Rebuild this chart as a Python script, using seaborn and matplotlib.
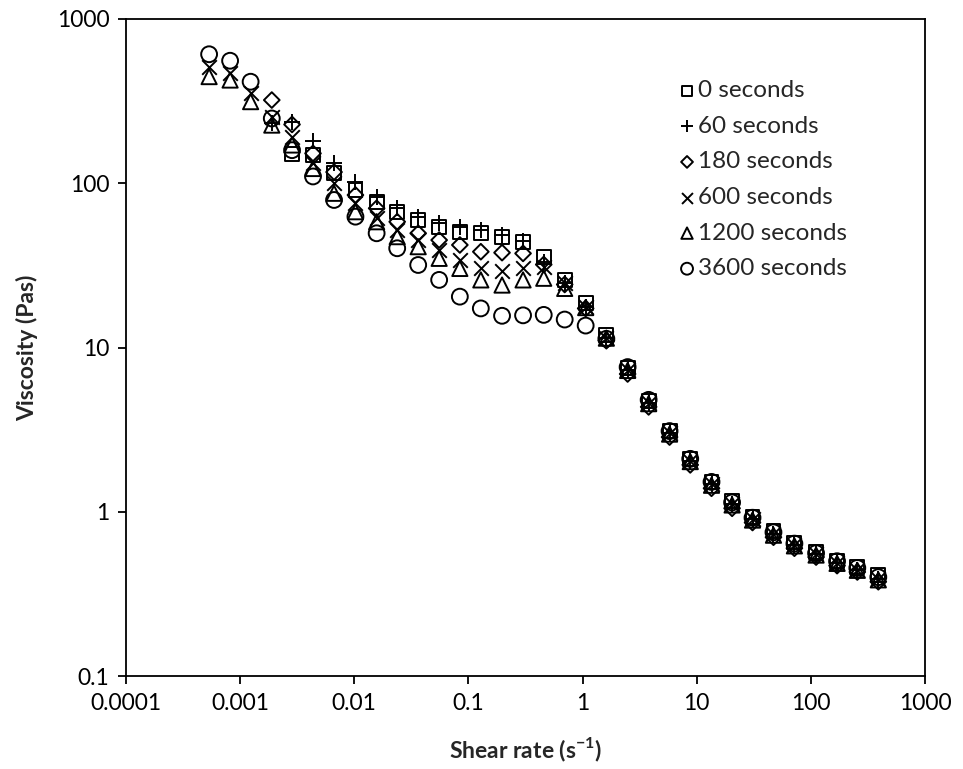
import numpy as np
import pandas as pd
import seaborn as sns
import matplotlib.pyplot as plt
from matplotlib.ticker import FixedLocator, FixedFormatter, NullLocator

nan = np.nan

# shear rate (1/s)
shear_rate = [5.35e-4, 8.17e-4, 1.236e-3, 1.894e-3, 2.85e-3, 4.35e-3, 6.65e-3, 0.01024,
              0.0157, 0.02377, 0.0363, 0.0554, 0.0841, 0.1284, 0.197, 0.301, 0.4567,
              0.697, 1.064, 1.615, 2.48, 3.79, 5.78, 8.77, 13.47, 20.4, 30.8, 47.0,
              71.7, 111, 169.5, 255, 389.5]

# viscosity (Pas) for each rest time
visc_0 = [nan, nan, nan, nan, 150, 148, 116, 91, 77.2, 67.1, 59.8, 53.9, 50.7, 49.6,
          47.3, 44.1, 35.4, 25.8, 18.7, 11.9, 7.55, 4.75, 3.1, 2.1, 1.52, 1.16, 0.93,
          0.76, 0.65, 0.57, 0.5, 0.46, 0.41]
visc_60 = [nan, nan, nan, 232, 236, 181, 133, 102, 82.8, 70.4, 62.6, 57.0, 54.4, 51.9,
           48.4, 44.5, 33.0, 24.6, 17.7, 11.5, 7.3, 4.6, 3.0, 2.04, 1.47, 1.11, 0.9,
           0.73, 0.63, 0.55, 0.49, 0.445, 0.39]
visc_180 = [nan, nan, nan, 321, 228, 152, 117, 84.8, 70.4, 58.3, 49.6, 45.1, 42.1, 38.3,
            37.8, 37.4, 32.0, 24.2, 17.3, 11.0, 6.9, 4.35, 2.85, 1.93, 1.39, 1.05, 0.86,
            0.7, 0.6, 0.53, 0.47, 0.43, 0.375]
visc_600 = [508, 471, 353, 254, 192, 132, 100.8, 75.5, 61.2, 51.9, 45.1, 39.2, 34.1,
            30.3, 29.4, 30.3, 31.0, 24.6, 17.7, 11.5, 7.3, 4.6, 3.0, 2.04, 1.47, 1.11,
            0.9, 0.73, 0.63, 0.55, 0.49, 0.445, 0.39]
visc_1200 = [446, 425, 314, 226, 171, 123, 86.9, 67.1, 58.3, 47.3, 41.1, 34.9, 30.3,
             25.8, 24.0, 25.8, 26.4, 22.9, 17.5, 11.4, 7.25, 4.55, 2.97, 2.02, 1.45,
             1.1, 0.89, 0.72, 0.62, 0.545, 0.485, 0.44, 0.385]
visc_3600 = [610, 557, 415, 248, 159, 110, 79.1, 62.6, 49.6, 40.2, 31.8, 25.8, 20.4,
             17.3, 15.6, 15.7, 15.8, 14.8, 13.6, 11.3, 7.6, 4.8, 3.1, 2.1, 1.52, 1.14,
             0.92, 0.75, 0.64, 0.56, 0.5, 0.455, 0.4]

labels = ['0 seconds', '60 seconds', '180 seconds', '600 seconds', '1200 seconds', '3600 seconds']
series = [visc_0, visc_60, visc_180, visc_600, visc_1200, visc_3600]
markers = ['s', '+', 'D', 'x', '^', 'o']
sizes = [100, 140, 64, 110, 120, 130]

x_ticks = [0.0001, 0.001, 0.01, 0.1, 1, 10, 100, 1000]
x_tick_labels = ['0.0001', '0.001', '0.01', '0.1', '1', '10', '100', '1000']
y_ticks = [0.1, 1, 10, 100, 1000]
y_tick_labels = ['0.1', '1', '10', '100', '1000']

sns.set_style('white')
plt.rcParams['font.family'] = ['Lato', 'DejaVu Sans']
plt.rcParams['mathtext.fontset'] = 'custom'
plt.rcParams['mathtext.rm'] = 'Lato'
plt.rcParams['mathtext.bf'] = 'Lato:bold'

fig = plt.figure(figsize=(9.63, 7.69), dpi=100)
ax = fig.add_axes([0.1308, 0.1209, 0.8298, 0.8544])

for lab, vals, mk, sz in zip(labels, series, markers, sizes):
    df = pd.DataFrame({'rate': shear_rate, 'visc': vals}).dropna()
    if mk in ('+', 'x'):
        sns.scatterplot(data=df, x='rate', y='visc', marker=mk, s=sz, color='black',
                        linewidth=1.4, label=lab, ax=ax, zorder=3)
    else:
        sns.scatterplot(data=df, x='rate', y='visc', marker=mk, s=sz, facecolor='none',
                        edgecolor='black', linewidth=1.4, label=lab, ax=ax, zorder=3)

ax.set_xscale('log')
ax.set_yscale('log')
ax.set_xlim(0.0001, 1000)
ax.set_ylim(0.1, 1000)
ax.xaxis.set_major_locator(FixedLocator(x_ticks))
ax.xaxis.set_major_formatter(FixedFormatter(x_tick_labels))
ax.yaxis.set_major_locator(FixedLocator(y_ticks))
ax.yaxis.set_major_formatter(FixedFormatter(y_tick_labels))
ax.xaxis.set_minor_locator(NullLocator())
ax.yaxis.set_minor_locator(NullLocator())
ax.tick_params(axis='both', which='major', direction='out', length=6, width=1.3,
               labelsize=16.5, colors='black', bottom=True, left=True, pad=6)

for sp in ax.spines.values():
    sp.set_visible(True)
    sp.set_color('black')
    sp.set_linewidth(1.3)

ax.set_xlabel(r'Shear rate (s$^{\mathbf{-1}}$)', fontsize=16.5, fontweight='bold', labelpad=16)
ax.set_ylabel('Viscosity (Pas)', fontsize=16.5, fontweight='bold', labelpad=13)

leg = ax.legend(loc='upper left', bbox_to_anchor=(0.693, 0.907), frameon=False,
                fontsize=17.5, handletextpad=0.15, labelspacing=0.6, markerscale=0.75,
                handlelength=0.6, borderaxespad=0, borderpad=0)

fig.savefig('out.png', dpi=100)
